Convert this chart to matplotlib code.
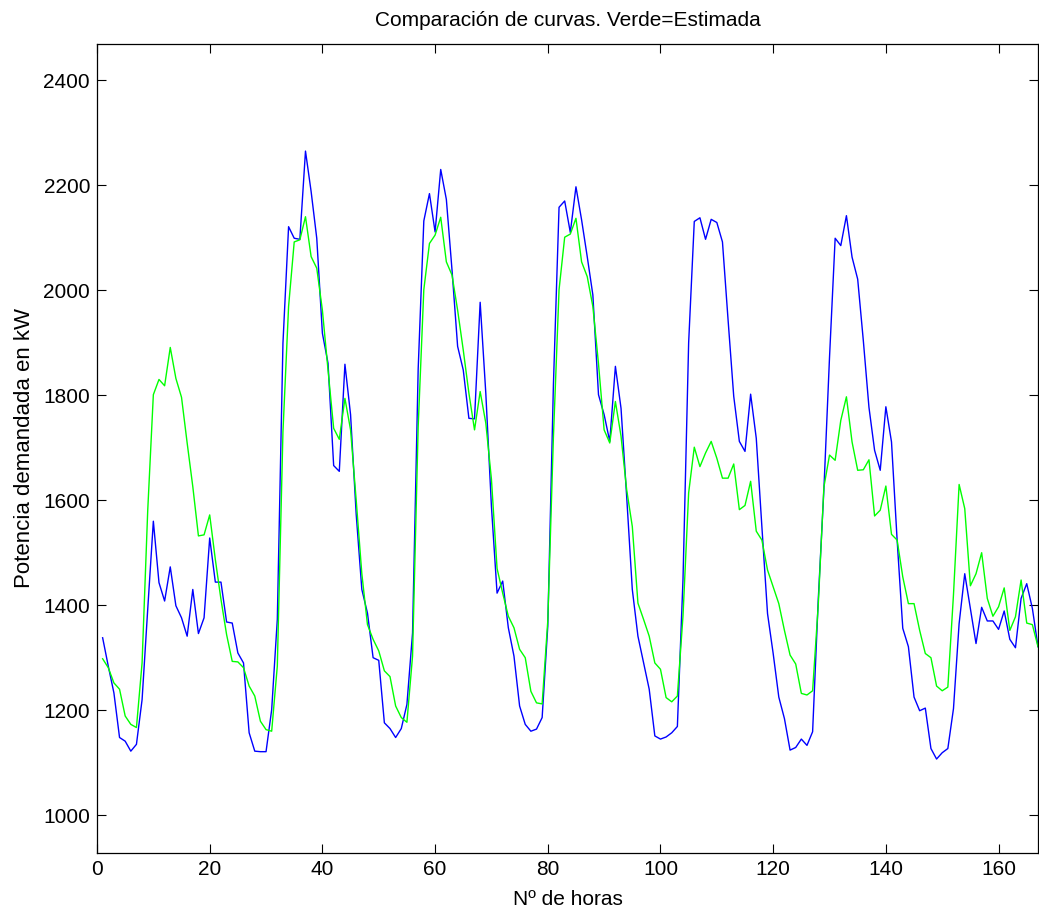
import numpy as np
import matplotlib
matplotlib.use('Agg')
import matplotlib.pyplot as plt

plt.rcParams['font.family'] = ['Liberation Sans', 'DejaVu Sans']

# demanda real (azul), kW por hora
real = [1338, 1284, 1233, 1148, 1141, 1122, 1135, 1220, 1392, 1560,
        1443, 1408, 1473, 1399, 1376, 1341, 1430, 1346, 1376, 1528,
        1444, 1444, 1368, 1366, 1309, 1290, 1157, 1122, 1121, 1121,
        1201, 1373, 1899, 2121, 2099, 2097, 2265, 2188, 2099, 1918,
        1861, 1666, 1655, 1859, 1763, 1573, 1430, 1385, 1300, 1295,
        1176, 1165, 1148, 1165, 1211, 1347, 1850, 2132, 2184, 2111,
        2230, 2173, 2039, 1893, 1848, 1756, 1755, 1977, 1804, 1588,
        1423, 1446, 1357, 1303, 1208, 1173, 1160, 1164, 1186, 1360,
        1820, 2158, 2170, 2110, 2197, 2134, 2064, 1991, 1801, 1763,
        1712, 1855, 1775, 1607, 1430, 1341, 1290, 1240, 1151, 1145,
        1149, 1157, 1169, 1450, 1900, 2131, 2138, 2097, 2135, 2129,
        2092, 1943, 1798, 1712, 1693, 1802, 1718, 1549, 1384, 1308,
        1225, 1184, 1124, 1129, 1145, 1133, 1159, 1410, 1620, 1872,
        2099, 2085, 2142, 2063, 2021, 1904, 1777, 1695, 1657, 1778,
        1711, 1524, 1356, 1321, 1225, 1199, 1204, 1127, 1107, 1119,
        1127, 1203, 1365, 1460, 1394, 1327, 1396, 1370, 1370, 1354,
        1389, 1335, 1319, 1413, 1441, 1394, 1321]

# demanda estimada (verde)
estimada = [1298, 1281, 1252, 1240, 1189, 1173, 1167, 1290, 1580, 1801,
            1830, 1818, 1891, 1832, 1796, 1709, 1626, 1532, 1534, 1572,
            1487, 1411, 1344, 1293, 1292, 1281, 1246, 1227, 1179, 1163,
            1160, 1284, 1730, 1969, 2092, 2096, 2140, 2064, 2042, 1962,
            1848, 1737, 1716, 1794, 1734, 1600, 1460, 1363, 1335, 1313,
            1275, 1264, 1208, 1186, 1177, 1303, 1740, 2001, 2089, 2105,
            2139, 2054, 2029, 1962, 1886, 1804, 1734, 1807, 1747, 1640,
            1470, 1423, 1379, 1357, 1316, 1300, 1236, 1214, 1212, 1370,
            1720, 2001, 2101, 2107, 2137, 2054, 2026, 1969, 1860, 1734,
            1709, 1788, 1722, 1620, 1550, 1404, 1373, 1341, 1290, 1278,
            1224, 1216, 1227, 1380, 1614, 1701, 1664, 1690, 1712, 1680,
            1642, 1642, 1669, 1582, 1590, 1636, 1541, 1524, 1467, 1435,
            1403, 1352, 1305, 1288, 1232, 1229, 1237, 1400, 1625, 1686,
            1676, 1752, 1797, 1711, 1657, 1658, 1677, 1570, 1581, 1627,
            1535, 1524, 1454, 1403, 1403, 1352, 1308, 1300, 1246, 1237,
            1244, 1420, 1630, 1584, 1437, 1460, 1500, 1413, 1379, 1397,
            1433, 1352, 1378, 1448, 1366, 1363, 1321]

horas = np.arange(1, len(real) + 1)

fig = plt.figure(figsize=(10.39, 9.14), dpi=100)
ax = fig.add_axes([97/1039, 61/914, 941/1039, 809/914])

ax.plot(horas, real, color=(0, 0, 1), lw=1.0)
ax.plot(horas, estimada, color=(0, 1, 0), lw=1.0)

ax.set_xlim(0, 167)
ax.set_ylim(928, 2469)
ax.set_xticks(np.arange(0, 161, 20))
ax.set_yticks(np.arange(1000, 2401, 200))
ax.tick_params(direction='in', length=6.5, width=0.8, labelsize=15,
               top=True, right=True, pad=5)
for s in ax.spines.values():
    s.set_linewidth(0.9)

ax.set_title('Comparación de curvas. Verde=Estimada', fontsize=15, pad=13)
ax.set_xlabel('Nº de horas', fontsize=15, labelpad=8)
ax.set_ylabel('Potencia demandada en kW', fontsize=16, labelpad=6)

fig.savefig('out.png', dpi=100)
